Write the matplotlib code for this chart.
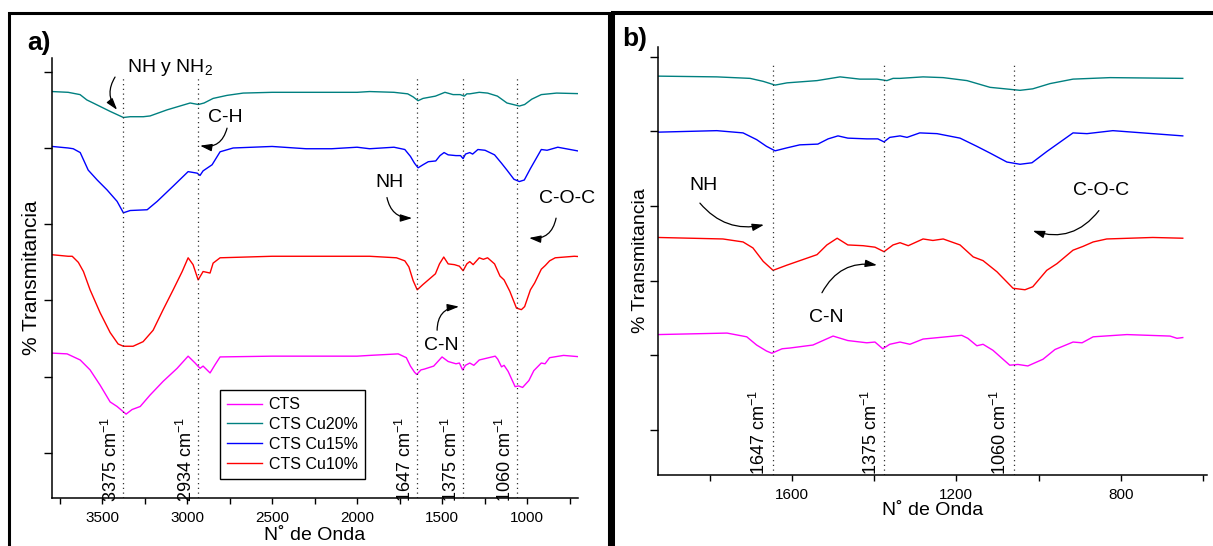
import matplotlib
matplotlib.use("Agg")
import matplotlib.pyplot as plt
from matplotlib.patches import Rectangle
from matplotlib.ticker import MultipleLocator

plt.rcParams["font.family"] = ["Liberation Sans", "DejaVu Sans"]
plt.rcParams["mathtext.fontset"] = "custom"
plt.rcParams["mathtext.rm"] = "Liberation Sans"
plt.rcParams["mathtext.it"] = "Liberation Sans:italic"
plt.rcParams["mathtext.bf"] = "Liberation Sans:bold"

# ---------------- FTIR spectra (wavenumber in cm-1, transmittance offset a.u.) ----------------
series_names = ["CTS", "CTS Cu20%", "CTS Cu15%", "CTS Cu10%"]
series_colors = ["#FF00FF", "#008080", "#0000FF", "#FF0000"]

cts_wn = [3794, 3706, 3629, 3571, 3512, 3453, 3412, 3359, 3324, 3276, 3218, 3141, 3059,
          2994, 2953, 2924, 2906, 2865, 2835, 2806, 2500, 2000,
          1926, 1758, 1710, 1686, 1662, 1649, 1624, 1605, 1549, 1500, 1464, 1418, 1398,
          1379, 1362, 1337, 1313, 1281, 1187, 1172, 1150, 1135, 1111, 1070, 1050, 1026,
          989, 960, 916, 894, 867, 785, 680, 663, 649]
cts_t = [23.1, 23.0, 22.2, 20.9, 18.9, 16.7, 16.1, 15.1, 15.7, 16.1, 17.6, 19.4, 21.1,
         22.7, 21.8, 21.1, 21.4, 20.5, 21.6, 22.6, 22.7, 22.7,
         22.8, 23.0, 22.5, 21.4, 20.6, 20.3, 20.9, 21.0, 21.4, 22.6, 22.0, 21.7, 21.8,
         20.9, 21.5, 21.8, 21.5, 22.2, 22.7, 22.3, 21.3, 21.5, 20.7, 18.7, 18.8, 18.6,
         19.5, 20.8, 21.8, 21.7, 22.5, 22.8, 22.6, 22.3, 22.4]

cu20_wn = [3794, 3700, 3630, 3590, 3553, 3453, 3375, 3335, 3258, 3218, 3118, 2982, 2934,
           2900, 2847, 2765, 2670, 2500, 2000,
           1926, 1783, 1702, 1670, 1641, 1612, 1539, 1483, 1435, 1393, 1369, 1354, 1337,
           1281, 1232, 1174, 1118, 1045, 1014, 972, 916, 826, 649]
cu20_t = [57.4, 57.3, 57.0, 56.3, 55.9, 54.8, 54.0, 54.1, 54.1, 54.2, 55.0, 55.9, 55.7,
          55.9, 56.5, 56.9, 57.2, 57.3, 57.3,
          57.4, 57.3, 57.1, 56.7, 56.2, 56.5, 56.8, 57.3, 57.0, 57.0, 56.8, 57.1, 57.1,
          57.3, 57.2, 56.8, 55.9, 55.5, 55.7, 56.4, 57.0, 57.2, 57.1]

cu15_wn = [3794, 3700, 3670, 3629, 3582, 3529, 3471, 3412, 3375, 3335, 3235, 3176, 3082,
           2994, 2941, 2924, 2906, 2853, 2806, 2729, 2500, 2300, 2150, 2000,
           1926, 1783, 1719, 1686, 1662, 1641, 1612, 1581, 1537, 1512, 1488, 1464, 1418,
           1391, 1376, 1362, 1337, 1320, 1289, 1247, 1191, 1150, 1118, 1077, 1045, 1016,
           980, 916, 882, 819, 722, 649]
cu15_t = [50.2, 50.0, 49.9, 49.4, 47.1, 45.8, 44.5, 43.0, 41.5, 41.8, 41.9, 43.0, 45.0,
          46.9, 46.7, 46.4, 47.0, 47.8, 49.5, 50.0, 50.2, 49.9, 49.9, 50.1,
          49.9, 50.1, 49.8, 48.9, 48.0, 47.4, 47.8, 48.2, 48.3, 49.0, 49.4, 49.1, 49.0,
          49.0, 48.6, 49.2, 49.4, 49.2, 49.8, 49.7, 49.1, 48.0, 47.1, 45.9, 45.6, 45.8,
          47.3, 49.8, 49.7, 50.1, 49.7, 49.4]

cu10_wn = [3794, 3700, 3676, 3640, 3610, 3571, 3512, 3453, 3406, 3375, 3318, 3259, 3200,
           3141, 3082, 3029, 2994, 2965, 2935, 2906, 2865, 2847, 2806, 2500, 2000,
           1926, 1768, 1719, 1695, 1670, 1646, 1612, 1539, 1515, 1490, 1464, 1427, 1398,
           1376, 1354, 1337, 1317, 1281, 1257, 1232, 1191, 1159, 1135, 1101, 1094, 1062,
           1033, 1014, 980, 955, 916, 892, 867, 834, 722, 649]
cu10_t = [36.0, 35.8, 35.8, 35.0, 33.8, 31.4, 28.4, 25.8, 24.3, 24.0, 24.0, 24.6, 26.1,
          28.8, 31.4, 33.8, 35.6, 34.7, 32.7, 33.8, 33.6, 34.9, 35.6, 35.8, 35.8,
          35.8, 35.6, 35.2, 34.4, 32.6, 31.4, 32.1, 33.5, 34.8, 35.7, 34.8, 34.7, 34.5,
          33.9, 34.8, 35.1, 34.7, 35.6, 35.4, 35.6, 34.8, 33.2, 32.7, 31.2, 30.8, 29.0,
          28.8, 29.2, 31.4, 32.3, 34.1, 34.6, 35.2, 35.6, 35.8, 35.7]

series_wn = [cts_wn, cu20_wn, cu15_wn, cu10_wn]
series_t = [cts_t, cu20_t, cu15_t, cu10_t]

# band positions marked with dotted guides
bands_a = [3375, 2934, 1647, 1375, 1060]
bands_b = [1647, 1375, 1060]

# ---------------- figure layout ----------------
W, H = 1213, 546
fig = plt.figure(figsize=(W / 100, H / 100), dpi=100)


def fx(px):
    return px / W


def fy(py):
    return 1 - py / H


ax_a = fig.add_axes([fx(52), fy(498), fx(578) - fx(52), fy(58) - fy(498)])
ax_b = fig.add_axes([fx(658), fy(475), fx(1207) - fx(658), fy(47) - fy(475)])

ax_a.set_xlim(3795, 700)
ax_a.set_ylim(4.1, 61.8)
ax_b.set_xlim(1926, 590)
ax_b.set_ylim(4.0, 61.3)

lines = []
for ax in (ax_a, ax_b):
    for wn, t, c, name in zip(series_wn, series_t, series_colors, series_names):
        ln, = ax.plot(wn, t, color=c, lw=1.0, label=name)
        if ax is ax_a:
            lines.append(ln)
    for s in ("top", "right"):
        ax.spines[s].set_visible(False)
    for s in ("left", "bottom"):
        ax.spines[s].set_linewidth(1.1)
    ax.set_yticks([10, 20, 30, 40, 50, 60])
    ax.set_yticklabels([])
    ax.tick_params(axis="x", which="both", direction="out", length=4.5, width=1.0,
                   labelsize=11, pad=5)

ax_a.tick_params(axis="y", direction="out", length=5.5, width=1.0)
ax_b.tick_params(axis="y", direction="out", length=6, width=1.0)
ax_a.xaxis.set_major_locator(MultipleLocator(500))
ax_a.xaxis.set_minor_locator(MultipleLocator(250))
ax_b.xaxis.set_major_locator(MultipleLocator(400))
ax_b.xaxis.set_minor_locator(MultipleLocator(200))

ax_a.set_ylabel("% Transmitancia", fontsize=15, labelpad=-1)
ax_b.set_ylabel("% Transmitancia", fontsize=14, labelpad=-3)
ax_a.set_xlabel("N\u02da de Onda", fontsize=14, labelpad=1)
ax_b.set_xlabel("N\u02da de Onda", fontsize=14, labelpad=0)

# dotted band guides with rotated wavenumber labels
for ax, bands, top, dx, dy in ((ax_a, bands_a, 59.5, -4.5, -3), (ax_b, bands_b, 59.2, -5.5, 0)):
    lo = ax.get_ylim()[0]
    ax.vlines(bands, lo, top, colors="#333333", linestyles=(0, (1, 2.8)), lw=0.9)
    for b in bands:
        ax.annotate(f"{b} cm$^{{-1}}$", xy=(b, lo), xycoords="data",
                    xytext=(dx, dy), textcoords="offset points",
                    rotation=90, rotation_mode="anchor", ha="left", va="baseline",
                    fontsize=13, annotation_clip=False)

# functional group callouts
arrow_kw = dict(arrowstyle="-|>,head_length=0.7,head_width=0.22", color="black",
                lw=0.9, shrinkA=0, shrinkB=0)


def callout(ax, label, txy, ha, tail, head, rad, size=14):
    ax.text(txy[0], txy[1], label, fontsize=size, ha=ha, va="baseline")
    ax.annotate("", xy=head, xytext=tail,
                arrowprops=dict(connectionstyle=f"arc3,rad={rad}", **arrow_kw))


callout(ax_a, "NH y NH$_2$", (3353, 60.0), "left", (3424, 59.3), (3412, 55.0), 0.35)
callout(ax_a, "C-H", (2876, 53.4), "left", (2765, 52.6), (2924, 50.3), -0.45)
callout(ax_a, "NH", (1894, 44.9), "left", (1824, 43.5), (1676, 40.8), 0.4)
callout(ax_a, "C-O-C", (929, 42.8), "left", (829, 40.8), (988, 38.2), -0.45)
callout(ax_a, "C-N", (1506, 23.5), "center", (1529, 26.1), (1400, 29.2), -0.45)

callout(ax_b, "NH", (1816, 42.2), "center", (1824, 40.4), (1668, 37.5), 0.3)
callout(ax_b, "C-N", (1517, 24.5), "center", (1527, 28.4), (1393, 32.1), -0.35)
callout(ax_b, "C-O-C", (848, 41.5), "center", (853, 39.4), (1014, 36.7), -0.35)

# legend in panel a
leg = ax_a.legend(handles=lines, labels=series_names, loc="upper left",
                  bbox_to_anchor=((220 - 52) / 526, (498 - 390) / 440),
                  borderaxespad=0, fontsize=11.5, frameon=True, fancybox=False,
                  edgecolor="black", framealpha=1, handlelength=2.2,
                  handletextpad=0.4, labelspacing=0.3, borderpad=0.45)
leg.get_frame().set_linewidth(1.0)

# panel letters
fig.text(fx(27), fy(43.5), "a)", fontsize=19, fontweight="bold", ha="left", va="center")
fig.text(fx(622), fy(39), "b)", fontsize=19, fontweight="bold", ha="left", va="center")

# panel frames
fig.add_artist(Rectangle((fx(8.5), fy(620)), fx(608.5) - fx(8.5), fy(12.5) - fy(620),
                         transform=fig.transFigure, fill=False, lw=2.2,
                         edgecolor="black", clip_on=False))
fig.add_artist(Rectangle((fx(612.5), fy(620)), fx(1300) - fx(612.5), fy(12.5) - fy(620),
                         transform=fig.transFigure, fill=False, lw=2.9,
                         edgecolor="black", clip_on=False))

fig.savefig("out.png", dpi=100)
